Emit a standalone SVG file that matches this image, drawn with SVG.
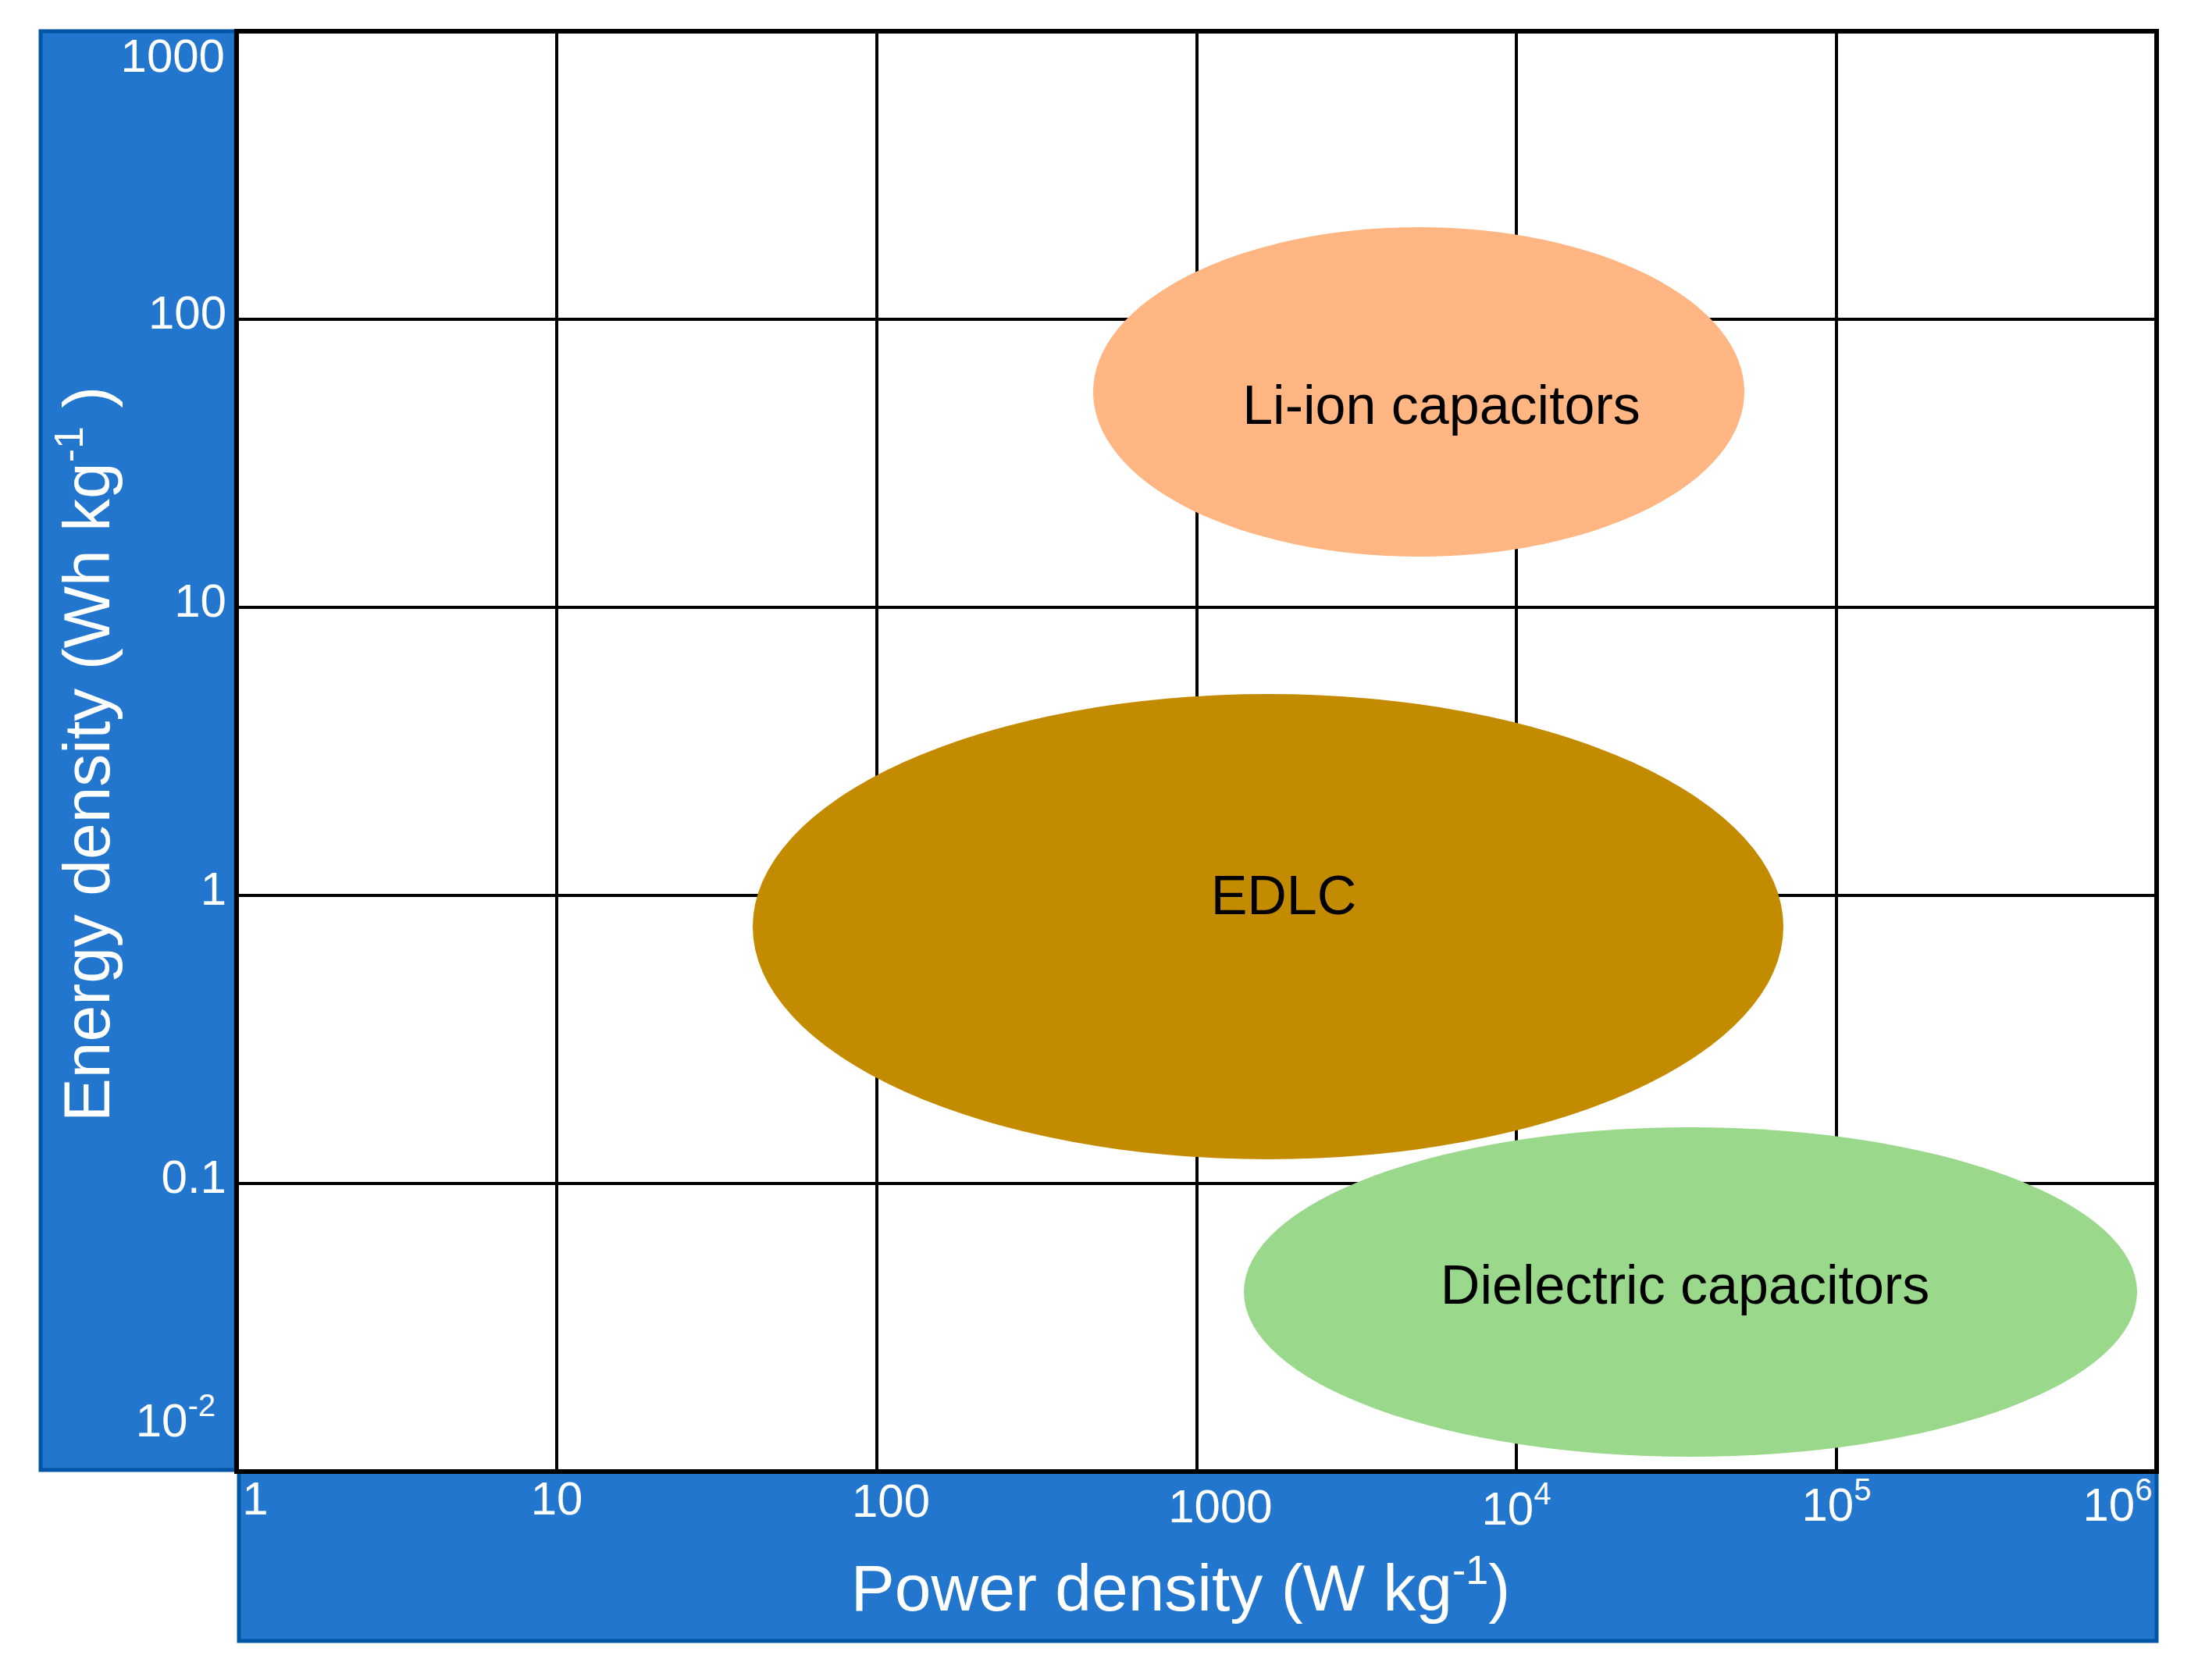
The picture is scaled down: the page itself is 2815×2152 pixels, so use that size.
<svg xmlns="http://www.w3.org/2000/svg" width="2815" height="2152" viewBox="0 0 2815 2152">
<style>
.band{fill:#2276CE;stroke:#0055A5;stroke-width:5}
.grid{stroke:#000;stroke-width:4;fill:none}
.tk{font-family:"Liberation Sans",Arial,sans-serif;font-size:60px;fill:#fff}
.ttl{font-family:"Liberation Sans",Arial,sans-serif;font-size:84px;fill:#fff}
.lbl{font-family:"Liberation Sans",Arial,sans-serif;font-size:70px;fill:#000;text-anchor:middle}
</style>
<rect width="2815" height="2152" fill="#fff"/>
<g id="y-axis">
<rect class="band" x="52" y="40" width="250" height="1843"/>
<g class="tk" text-anchor="end">
<text x="288" y="92">1000</text>
<text x="290" y="421">100</text>
<text x="290" y="790">10</text>
<text x="290" y="1159">1</text>
<text x="290" y="1528">0.1</text>
<text x="276" y="1840">10<tspan dy="-26" font-size="40">-2</tspan></text>
</g>
<text class="ttl" transform="translate(140,966) rotate(-90)" text-anchor="middle">Energy density (Wh kg<tspan dy="-34" font-size="52">-1</tspan><tspan dy="34"> )</tspan></text>
</g>
<g id="x-axis">
<rect class="band" x="306" y="1885" width="2456" height="217"/>
<g class="tk" text-anchor="middle">
<text x="327" y="1940">1</text>
<text x="713" y="1940">10</text>
<text x="1141" y="1943">100</text>
<text x="1563" y="1950">1000</text>
<text x="1942" y="1953">10<tspan dy="-26" font-size="40">4</tspan></text>
<text x="2352" y="1948">10<tspan dy="-26" font-size="40">5</tspan></text>
<text x="2712" y="1948">10<tspan dy="-26" font-size="40">6</tspan></text>
</g>
<text class="ttl" x="1512" y="2063" text-anchor="middle">Power density (W kg<tspan dy="-34" font-size="52">-1</tspan><tspan dy="34">)</tspan></text>
</g>
<g id="grid" class="grid">
<path d="M713 40V1885M1123 40V1885M1533 40V1885M1942 40V1885M2352 40V1885M302 409H2762M302 778H2762M302 1147H2762M302 1516H2762"/>
<rect x="303" y="40" width="2459" height="1845" stroke-width="6"/>
</g>
<g id="li-ion">
<ellipse cx="1817" cy="502" rx="417" ry="211" fill="#FFB683"/>
<text class="lbl" x="1846" y="543">Li-ion capacitors</text>
</g>
<g id="dielectric">
<ellipse cx="2165" cy="1655" rx="572" ry="211" fill="#9AD98B"/>
<text class="lbl" x="2158" y="1670">Dielectric capacitors</text>
</g>
<g id="edlc">
<ellipse cx="1624" cy="1187" rx="660" ry="298" fill="#C38B00"/>
<text class="lbl" x="1644" y="1171">EDLC</text>
</g>
</svg>
